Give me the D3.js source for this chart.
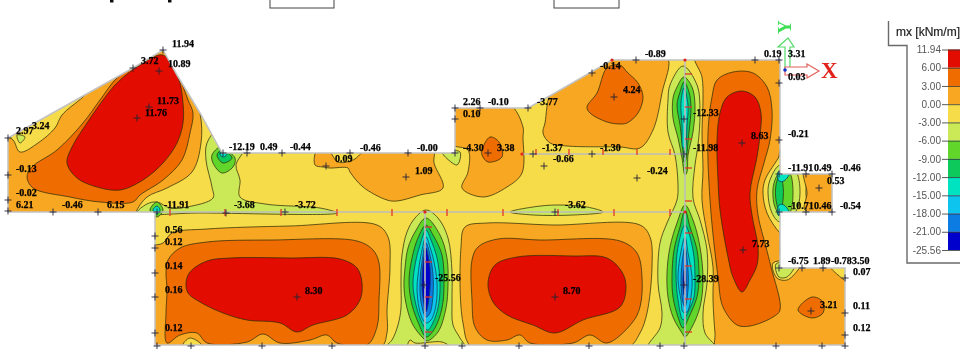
<!DOCTYPE html>
<html>
<head>
<meta charset="utf-8">
<script src="https://cdn.jsdelivr.net/npm/d3@7"></script>
<style>
  html, body { margin: 0; padding: 0; background: #fff; overflow: hidden; }
  svg { display: block; }
</style>
</head>
<body>
<svg id="plate" width="960" height="349"></svg>
<script>
// Legend: moment levels and the colour of the band under each level
const legendLabels = ["11.94", "6.00", "3.00", "0.00", "-3.00", "-6.00", "-9.00", "-12.00", "-15.00", "-18.00", "-21.00", "-25.56"];
const bandLevels = [6, 3, 0, -3, -6, -9, -12, -15, -18, -21, -25.56];
const bandColors = ["#e20a00", "#ee6c00", "#f8a722", "#f7dc4a", "#cbe957", "#62d52c", "#0cc95c", "#00e3c0", "#10c4ee", "#0a7ce2", "#0404cc"];

// Slab geometry in plan coordinates (m)
const slabOutline = [[0.8,13.8],[13.3,6.8],[16.3,5],[17.7,7.5],[20,11.3],[22.2,15.3],[45.5,15.3],[45.5,10.8],[52.8,10.8],[55.5,9.3],[61.2,6],[78,6],[78,17.4],[83.2,17.4],[83.2,21.2],[78,21.2],[78,26.8],[84.5,26.8],[84.5,34.5],[15.5,34.5],[15.5,21.2],[0.8,21.2]];
const wallLines = [
  [[15.5,21.2],[68.5,21.2]],
  [[52.2,15.4],[68.5,15.4]],
  [[68.5,6],[68.5,34.5]],
  [[42.5,21.2],[42.5,34.5]]
];

// Contour lines, one closed line per region
const wingLight = [[0.4,13.6],[1.3,14],[2,15.2],[3.8,14.3],[5.5,12.8],[6.2,11.5],[8.3,9.7],[10,8],[13.3,6],[16.3,4],[18.5,7],[20,11.3],[20.1,14.3],[19.2,17.2],[16.7,18.8],[14.7,19.7],[13.6,21.2],[13.4,22.2],[0.4,22.2]];
const wingOrange = [[2.7,17.7],[3.2,16.7],[5.7,15],[8.3,12.3],[10,10],[11.7,7.8],[13.3,6.8],[16.3,5.7],[17.7,7.3],[18.8,10],[19.3,11.3],[19,13.3],[18.2,16],[16.3,18],[14,19.5],[13.3,20.2],[10,20.2],[7,19.7],[3.3,18.8]];
const wingRed = [[6.7,16.3],[7.2,14.7],[8.7,12.3],[10.3,10],[11.7,8.3],[14,6.5],[16.3,5.5],[17.8,7.7],[18.3,10.3],[18.3,12.3],[17.7,14.3],[16.3,16.3],[14.3,18],[12,19],[9.7,18.7],[7.7,17.8]];
const wingGreenBand = [[21.8,13],[20.7,14.3],[20.6,16],[21.2,18.7],[21.3,19.8],[18.7,20.7],[17,20.8],[15.7,20.2],[14.7,20.4],[13.7,21.3],[20,21.3],[33.7,21.3],[32,20.8],[26.5,20.4],[24,19.7],[24,18],[23.6,16.5],[24.3,15],[23.2,14.6]];
const wingGreen = [[22,14.7],[21.2,15.5],[21.3,16.3],[22.2,17.3],[23.3,16.7],[23.5,15.8],[22.4,14.9]];
const wingDarkGreen = [[22.2,15],[21.7,15.5],[22.3,16.3],[23.2,15.8]];
const wingTeal = [[22.2,15.1],[22,15.5],[22.4,15.7],[22.7,15.4]];
const cornerDiamond = [[15.7,20.2],[15,21],[15.7,21.7],[16.3,21]];
const cornerDiamondInner = [[15.7,20.6],[15.3,21],[15.7,21.4],[16,21]];
const wingTipGreen = [[1.7,13.5],[2,14.3],[2.5,13.7]];

const topLumpA = [[31.5,16.5],[31.7,15],[32.8,15],[33.8,16.2],[35.3,16],[36.7,15],[43.3,15],[43.4,16.3],[44.3,18.8],[42,19.5],[39.7,20.1],[38.7,20],[36.3,18.7],[35,17.2],[34.8,16.8],[33,16.8],[32.3,16.7]];
const notchGreen = [[44.2,15.2],[45.7,16.5],[46,15.2]];
const topLumpB = [[45.2,10.4],[50.9,10.4],[52.3,12.7],[52.3,13.7],[52.2,17.3],[50.7,18.7],[48.3,19.7],[46.2,18.8],[46.8,17.2],[46.8,15],[45.2,14.4]];
const topLumpBOrange = [[48.2,15],[49,13.7],[49.9,14.2],[50.2,15.7],[48.8,16.2],[48.2,15.5]];
const topLumpC = [[55.2,9],[54.5,12.3],[54.3,13.3],[55,14.3],[56.7,14.6],[62,14.7],[64,14.8],[65.3,13],[66.2,9.3],[66.7,5.6],[61.2,5],[58,7]];
const topLumpCOrange = [[58.7,10.7],[59.7,9.3],[60.7,6.8],[62,6.5],[62.7,7.2],[63.8,8.3],[64.3,9.7],[63.8,11.3],[62.7,12.3],[62,12.4],[60.7,12.2],[59,11.3]];
const beamLens = [[51,21.2],[53.3,20.7],[55.7,20.5],[58.7,20.7],[60.3,21.2],[57.3,21.5],[53.3,21.5]];

const spanALight = [[15.5,24.5],[16.3,24.3],[17.2,23.3],[20.7,22.9],[29,22.6],[37.7,22.5],[38.8,23.7],[39,26.7],[38.7,31],[38.7,33.3],[38,34.8],[15,34.8],[15,24.5]];
const spanAOrange = [[16.6,27.2],[16.8,26],[18,24.8],[20.7,24.2],[27.3,24],[35.7,24.1],[37.3,25],[37.9,26.3],[37.9,30],[37.7,32.7],[36.7,34.5],[33.7,34.3],[32.7,33.5],[31,34],[28,34.3],[26.3,33.4],[24.7,34.2],[20.7,34.3],[19.7,33.3],[18,33.5],[16.7,34.3],[16.6,31.3],[16.7,29]];
const spanARed = [[18.6,28.3],[19,27.2],[20.7,26.1],[23,25.8],[29,25.8],[34,25.9],[35.7,26.8],[36.2,28.3],[36,30],[34.7,31.5],[31.3,32.5],[29.7,33.2],[28,32.3],[24.7,32],[22.3,31.3],[20,30.2],[18.8,29.3]];
const spanABump = [[18.2,34.7],[19,33.8],[20.3,34.7],[19,35.5]];

const spanBLight = [[46.1,24.7],[46.5,22.7],[48.7,22.3],[55.3,22.5],[64,22.5],[65,23.7],[65.2,26.7],[64.7,31.3],[64,33.3],[62.7,34.8],[47.3,34.8],[46.3,32.3]];
const spanBOrange = [[47.2,26],[47.8,24.7],[49.8,23.9],[54,24],[62,24.1],[63.7,25.3],[64.2,27.7],[64,30.7],[63.2,32.3],[60.7,34.3],[59,33.5],[57.3,34.3],[53,34.3],[52,33.5],[50.7,34],[48.7,34],[47.5,32.7],[47.2,30]];
const spanBRed = [[48.8,28.3],[49.5,26.5],[51.7,25.7],[57.3,25.6],[60.7,25.8],[62.2,27.2],[62.6,28.7],[62,30.7],[58.3,32],[55.5,33.3],[53.3,32.5],[50.7,31.5],[49.3,30.2]];

const rightLight = [[69.5,5.5],[70.2,7.7],[70.3,10],[70.2,13.3],[70.3,17],[70.2,20],[70.7,23.3],[71.3,26.7],[71.3,30],[71.5,33.3],[71.7,35],[85,35],[85,26.2],[78.4,26.2],[78,23.5],[78,15],[78.5,14],[78.5,5.5]];
const rightOrange = [[71.2,9.7],[71.7,8],[73.3,7.2],[75.3,7.3],[76.7,8.7],[77.2,11],[77,14],[76.4,16.3],[75.7,19],[75.8,21.5],[76.6,24.7],[77.1,26.7],[78,31],[77.3,31.7],[75,32.6],[73.7,32.5],[72.3,30.7],[71.8,27.7],[71,20],[70.8,13.3]];
const rightRed = [[72,11.3],[72.7,9.7],[74.2,9.1],[75.5,9.7],[76.1,11.3],[76,13.5],[75.7,15.7],[75,19.3],[75.2,21.5],[75.8,24.7],[75.7,26.5],[75,28],[74.2,29.2],[73.3,27.7],[72.8,25.7],[72,21],[71.8,18],[71.7,14]];
const islandOrange = [[79.8,31],[81.2,29.7],[82.3,30.2],[82.3,31.3],[81.2,31.8]];
const notchYellow = [[77.3,26.3],[77.7,27.8],[78.7,28],[79.8,27],[80.2,26.3]];
const notchGreenB = [[77.6,26.4],[77.9,27.7],[78.7,27.7],[79.5,26.4]];
const cornerYellow = [[82.8,26.3],[83.8,27.5],[85,28.2],[85,26.3]];

const endBulge = [[78.4,14.5],[78,15.5],[76.5,18],[76.3,19.3],[76.7,21.3],[78,23.3],[79,24],[81,22.5],[80.6,19.5],[80.6,16.5],[79.5,15.5]];
const endLight = [[80.4,17],[82.3,17],[83.8,18.8],[83.8,21],[80.5,21],[80.7,19.3]];
const endBandA = [[78,16.5],[77,18],[76.8,19.3],[77.2,21.3],[78,22.2],[79.5,21.3],[80,19.3],[79.5,17]];
const endBandB = [[78,17.2],[77.4,18.3],[77.3,19.7],[77.5,20.7],[78,21.5],[78.9,21.4],[79.3,19.3],[78.9,17.2]];
const endBandC = [[78,17.4],[77.6,18.5],[77.6,20],[78,21.3],[78.3,20],[78.3,18.5]];
const endCornerTop = [[77.8,17.2],[77.9,18.1],[78.4,18.1],[79,17.2]];
const endCornerBot = [[77.8,21.5],[77.9,20.5],[78.4,20.5],[79,21.5]];

const stripBand3 = [[68.3,6.6],[67,8.5],[66.8,10],[66.8,13.2],[67.5,15.5],[67.8,18.5],[67.7,20],[66.7,22.3],[66,24.3],[65.8,28.3],[66.2,31.3],[66,32.8],[64.7,35],[71.7,35],[70.5,33.3],[70.3,31.3],[70.7,28.3],[70.7,25],[70,22],[69.3,19.8],[69.5,16.5],[69.8,14.5],[70,11.2],[69.7,8.5]];
const stripUp6 = [[68.4,7.7],[67.7,8.7],[67.3,9.8],[67.3,11.8],[67.8,13.8],[68.2,15.8],[68.5,17.5],[68.7,17.2],[68.8,15.5],[69.3,13.2],[69.5,10.5],[69.2,8.7]];
const stripUp9 = [[68.4,8.2],[68,9.2],[67.7,10.5],[68,12.5],[68.3,15.2],[68.4,16.2],[68.5,16.2],[68.9,13.2],[69.1,10.8],[68.9,9.2]];
const stripUp12 = [[68.4,8.8],[68.1,10.2],[68.2,12.5],[68.3,14.8],[68.5,14.8],[68.7,12.5],[68.8,10.5]];
const stripLow6 = [[68.5,20.5],[67.7,22.3],[67,24.7],[66.7,27.3],[66.8,29.7],[67.3,31.7],[68.2,33.3],[68.5,33.7],[69.2,32.7],[70,30.7],[70.3,28],[70,24.7],[69.3,22]];
const stripLow9 = [[68.5,21],[68,22.7],[67.4,25],[67.2,27.7],[67.3,29.7],[67.8,31.7],[68.3,32.8],[68.9,31.7],[69.7,29.7],[69.9,27.7],[69.7,25],[69,22.7]];
const stripLow12 = [[68.5,22.5],[67.8,24.7],[67.6,27.3],[67.8,30],[68.3,32],[68.9,31],[69.4,29.7],[69.5,27.7],[69.3,25]];
const stripLow15 = [[68.5,23.7],[68,25.7],[67.8,28],[68.1,30],[68.3,31.2],[68.7,31.2],[69.1,29.7],[69.2,27.7],[68.8,25.3]];
const stripLow18 = [[68.5,24.7],[68.2,26.3],[68.1,28.3],[68.3,30.3],[68.5,30.7],[68.8,29],[68.8,27]];
const stripLow21 = [[68.5,26.5],[68.3,28],[68.4,29.5],[68.6,28.5]];

const midBand3 = [[42.6,21],[41.5,21.8],[40.7,23.2],[40.2,25.5],[40.1,28.2],[40.1,30.8],[39.8,32.5],[39.2,34],[38.5,34.8],[46.5,34.8],[46,33.8],[45.3,32.5],[45.2,30.2],[45.2,27.2],[44.8,23.8],[43.8,21.8]];
const mid6 = [[42.6,21.8],[41.5,23.2],[40.8,24.8],[40.5,26.8],[40.4,28.8],[40.7,30.8],[41.3,32.5],[42.3,33.8],[42.7,34.1],[43.8,33.2],[44.6,30.8],[44.8,28.5],[44.7,25.8],[44,23.5]];
const mid9 = [[42.6,22.5],[41.8,23.8],[41.2,25.8],[40.9,28.2],[41.2,30.5],[41.8,32.2],[42.4,33.5],[42.7,33.7],[43.5,32.8],[44.2,30.8],[44.4,28.5],[44.2,25.5],[43.3,23.5]];
const mid12 = [[42.6,23],[42,24.5],[41.5,26.5],[41.3,28.5],[41.6,30.5],[42,31.8],[42.5,32.8],[42.8,33],[43.5,31.8],[43.9,30.2],[44,28.2],[43.7,25.8],[43.1,24]];
const mid15 = [[42.6,23.7],[42.1,25.5],[41.8,27.5],[41.7,28.8],[41.9,30.8],[42.3,32],[42.6,32.3],[43.1,32],[43.6,30.5],[43.7,28.2],[43.4,26.2],[43,24.7]];
const mid18 = [[42.6,24.3],[42.2,26.2],[42,28.2],[42.1,30.2],[42.6,31.7],[43,31.3],[43.3,29.5],[43.3,27.5],[43,25.5]];
const mid21 = [[42.6,24.8],[42.3,26.5],[42.2,28.5],[42.3,29.8],[42.6,31.2],[42.8,30.5],[43,28.8],[43,26.8],[42.8,25.5]];
const midBump = [[40.8,34.7],[41,34],[41.5,34.3],[44.2,34.2],[45,34.7]];

// Painted back to front: [level, contour]
const contourRegions = [
  [0, wingLight], [3, wingOrange], [6, wingRed], [-6, wingGreenBand], [-9, wingGreen], [-12, wingDarkGreen], [-15, wingTeal],
  [-9, cornerDiamond], [-15, cornerDiamondInner], [-6, wingTipGreen],
  [0, topLumpA], [-6, notchGreen], [0, topLumpB], [3, topLumpBOrange], [0, topLumpC], [3, topLumpCOrange], [-6, beamLens],
  [0, spanALight], [3, spanAOrange], [6, spanARed], [-3, spanABump],
  [0, spanBLight], [3, spanBOrange], [6, spanBRed],
  [0, rightLight], [3, rightOrange], [6, rightRed], [3, islandOrange], [-3, notchYellow], [-6, notchGreenB], [-3, cornerYellow],
  [-3, endBulge], [0, endLight], [-6, endBandA], [-9, endBandB], [-12, endBandC], [-15, endCornerTop], [-15, endCornerBot],
  [-6, stripBand3], [-9, stripUp6], [-12, stripUp9], [-15, stripUp12],
  [-9, stripLow6], [-12, stripLow9], [-15, stripLow12], [-18, stripLow15], [-21, stripLow18], [-25.56, stripLow21],
  [-6, midBand3], [-9, mid6], [-12, mid9], [-15, mid12], [-18, mid15], [-21, mid18], [-25.56, mid21], [-3, midBump]
];

// Support marks along the walls
const beamTicks = [17, 22.5, 28.1, 33.7, 39.2, 44.7, 50.3, 55.8, 61.4, 67];
const shelfTicks = [53.6, 56.9, 60.3, 63.7, 67];
const stripTicks = [7.4, 10.7, 13.9, 16.8, 20.1, 23.3, 26.6, 29.9, 33.2];
const midTicks = [22.7, 26.2, 29.7, 33.2];
const redDots = [[42.5,21.2],[68.5,6],[61.2,6],[68.5,21.2],[52.2,15.4]];

// FE nodes with a printed result
const nodeMarks = [[16.3,5],[15.9,7.1],[13.3,6.8],[14.9,10.7],[13.7,11.8],[0.8,13.8],[0.8,17.5],[0.8,20],[0.8,21.1],[5.3,21.2],[9.8,21.2],[15.7,21.2],[22.3,15.3],[24.7,15.3],[28.2,15.3],[22.6,21.3],[28.5,21.2],[35,15.3],[32.6,16.6],[40.8,15.3],[40.6,17.7],[45.5,15.3],[45.5,10.8],[45.5,11.9],[48,10.8],[48.8,15.3],[52.8,10.8],[53.3,15.4],[54.4,16.6],[59.2,15.4],[59.2,7.3],[61.4,9.7],[55.5,21.2],[63.6,6],[75.5,6],[77.9,6],[77.9,8.3],[68.4,11.9],[68.4,15.4],[63.7,17.8],[74.2,14.3],[77.9,14],[77.9,17.4],[80.6,17.4],[83.2,17.4],[81.9,18.8],[77.9,21.2],[80.6,21.2],[83.2,21.2],[15.5,23.6],[15.5,24.8],[15.5,27.3],[15.5,29.7],[15.5,33.3],[15.7,34.6],[19.1,34.6],[26.2,34.6],[33.2,34.6],[42.5,34.6],[29.7,29.7],[42.4,28.5],[46.2,34.6],[51.9,34.6],[58.9,34.6],[66,34.6],[68.4,34.6],[55.5,29.7],[68.4,28.5],[74.3,25],[77.9,26.8],[80.2,26.8],[82.3,26.8],[84.5,27.8],[84.5,31.3],[84.5,33.5],[84.5,34.6],[77.6,34.6],[82.2,34.6],[81.1,31.1]];

const resultTexts = ["11.94","3.72","10.89","11.73","11.76","2.97","3.24","-0.13","-0.02","6.21","-0.46","6.15","-11.91","-3.68","-3.72","-12.19","0.49","-0.44","0.09","-0.46","-0.00","1.09","2.26","-0.10","0.10","-3.77","-4.30","3.38","-1.37","-0.66","-1.30","-3.62","-0.14","-0.89","0.19","3.31","0.03","4.24","-12.33","-11.98","8.63","-0.21","-0.24","-11.91","0.49","-0.46","0.53","-10.71","0.46","-0.54","0.56","0.12","0.14","0.16","0.12","8.30","-25.56","8.70","-28.39","7.73","-6.75","1.89","-0.78","3.50","0.07","0.11","0.12","3.21"];
const resultAnchors = [[17.2,4.7],[14.1,6.4],[16.8,6.7],[15.7,10.4],[14.5,11.6],[1.6,13.4],[3.2,12.9],[1.6,17.2],[1.6,19.6],[1.6,20.8],[6.2,20.8],[10.7,20.8],[16.4,20.8],[23.4,20.8],[29.5,20.8],[22.9,15],[26,15],[29,15],[33.5,16.2],[36,15.1],[41.7,15.1],[41.5,17.4],[46.3,10.5],[48.8,10.5],[46.3,11.7],[53.7,10.5],[46.3,15.1],[49.7,15.1],[54.2,15.1],[55.3,16.2],[60,15.1],[56.5,20.8],[60,6.9],[64.5,5.7],[76.4,5.7],[78.8,5.7],[78.8,8],[62.3,9.3],[69.3,11.6],[69.3,15.1],[75.1,13.9],[78.8,13.7],[64.7,17.4],[78.8,17.1],[81.4,17.1],[84,17.1],[82.7,18.4],[78.8,20.9],[81.4,20.9],[84,20.9],[16.5,23.3],[16.5,24.5],[16.5,26.9],[16.5,29.3],[16.5,33.1],[30.5,29.4],[43.5,28.1],[56.3,29.4],[69.3,28.2],[75.2,24.7],[78.8,26.4],[81.3,26.4],[83.1,26.4],[85.2,26.4],[85.3,27.5],[85.3,30.9],[85.3,33.1],[82,30.8]];

// Global axes glyph at the slab origin
const arrowY = [[78.5,7],[78.5,4.7],[77.8,4.7],[78.8,3.8],[79.4,4.7],[79,4.7],[79,7]];
const arrowX = [[78.5,6.7],[80.7,6.7],[80.7,6.4],[81.9,7.1],[80.7,7.8],[80.7,7.5],[78.5,7.5]];
const originDot = [78.5,7];

// Title frame pieces left over along the top edge of the screenshot
const topBoxes = [[27,33.4],[55.4,61.9]];
const topBoxDepth = 0.8;
const topSpecks = [11, 16.8];

const svg = d3.select("#plate");
const x = d3.scaleLinear().domain([0, 96]).range([0, 960]);
const y = d3.scaleLinear().domain([0, 34.9]).range([0, 349]);
const color = d3.scaleOrdinal().domain(bandLevels).range(bandColors);
const path = d3.line().x(d => x(d[0])).y(d => y(d[1]));
const smooth = d3.line().x(d => x(d[0])).y(d => y(d[1])).curve(d3.curveCatmullRomClosed.alpha(0.5));

// Soften everything a little, the source is a rescaled screenshot
const defs = svg.append("defs");
defs.append("filter").attr("id", "soft")
  .attr("x", "-2%").attr("y", "-2%").attr("width", "104%").attr("height", "104%")
  .append("feGaussianBlur").attr("stdDeviation", 0.45);
defs.append("clipPath").attr("id", "slabClip")
  .append("path").attr("d", path(slabOutline) + "Z");

const plot = svg.append("g").attr("filter", "url(#soft)");

// Contour fills
const fills = plot.append("g").attr("clip-path", "url(#slabClip)");
fills.append("path").attr("d", path(slabOutline) + "Z").attr("fill", color(-3));
fills.selectAll("path.band")
  .data(contourRegions)
  .join("path")
  .attr("class", "band")
  .attr("d", d => smooth(d[1]))
  .attr("fill", d => color(d[0]))
  .attr("stroke", d => d[0] <= -15 ? "#0d3d5c" : "#33300a")
  .attr("stroke-opacity", 0.85)
  .attr("stroke-width", 0.9);

// Walls and slab edge
plot.append("g").selectAll("path")
  .data(wallLines)
  .join("path")
  .attr("d", d => path(d))
  .attr("stroke", "#bdbdbd")
  .attr("stroke-width", 1.6)
  .attr("fill", "none");
plot.append("path")
  .attr("d", path(slabOutline) + "Z")
  .attr("fill", "none")
  .attr("stroke", "#c2c2c2")
  .attr("stroke-width", 1.5);

// Red support ticks
const ticks = plot.append("g").attr("stroke", "#e2362a").attr("stroke-width", 1.3);
ticks.selectAll("line.beam").data(beamTicks).join("line").attr("class", "beam")
  .attr("x1", d => x(d)).attr("x2", d => x(d)).attr("y1", y(20.9)).attr("y2", y(21.6));
ticks.selectAll("line.shelf").data(shelfTicks).join("line").attr("class", "shelf")
  .attr("x1", d => x(d)).attr("x2", d => x(d)).attr("y1", y(14.9)).attr("y2", y(15.5));
ticks.selectAll("line.strip").data(stripTicks).join("line").attr("class", "strip")
  .attr("x1", x(68.5)).attr("x2", x(69.2)).attr("y1", d => y(d)).attr("y2", d => y(d));
ticks.selectAll("line.mid").data(midTicks).join("line").attr("class", "mid")
  .attr("x1", x(42.5)).attr("x2", x(43.2)).attr("y1", d => y(d)).attr("y2", d => y(d));
plot.append("g").selectAll("circle")
  .data(redDots)
  .join("circle")
  .attr("cx", d => x(d[0]))
  .attr("cy", d => y(d[1]))
  .attr("r", 1.6)
  .attr("fill", "#e2231a");

// Node crosses
plot.append("g").selectAll("path")
  .data(nodeMarks)
  .join("path")
  .attr("d", d => `M${x(d[0]) - 3.5},${y(d[1])}H${x(d[0]) + 3.5}M${x(d[0])},${y(d[1]) - 3.5}V${y(d[1]) + 3.5}`)
  .attr("stroke", "#1f2238")
  .attr("stroke-width", 0.9)
  .attr("fill", "none");

// Axes glyph
plot.append("path").attr("d", path(arrowY) + "Z").attr("fill", "#fff").attr("stroke", "#55d96a").attr("stroke-width", 1.2);
plot.append("path").attr("d", path(arrowX) + "Z").attr("fill", "#fff").attr("stroke", "#e2605a").attr("stroke-width", 1.2);
plot.append("circle").attr("cx", x(originDot[0])).attr("cy", y(originDot[1])).attr("r", 1.8).attr("fill", "#1030d0");
plot.append("text")
  .attr("transform", `translate(${x(79.1)},${y(3.4)}) rotate(-90)`)
  .attr("font-family", "Liberation Serif")
  .attr("font-weight", "bold")
  .attr("font-size", 19)
  .attr("fill", "#3ddf55")
  .text("Y");
plot.append("text")
  .attr("x", x(82.1))
  .attr("y", y(7.8))
  .attr("font-family", "Liberation Serif")
  .attr("font-weight", "bold")
  .attr("font-size", 23)
  .attr("fill", "#e2231a")
  .text("X");

// Result labels
plot.append("g")
  .attr("font-family", "Liberation Serif")
  .attr("font-weight", "bold")
  .attr("font-size", 10)
  .attr("fill", "#000")
  .attr("stroke", "#000")
  .attr("stroke-width", 0.25)
  .selectAll("text")
  .data(resultTexts)
  .join("text")
  .attr("x", (d, i) => x(resultAnchors[i][0]))
  .attr("y", (d, i) => y(resultAnchors[i][1]))
  .text(d => d);

// Screenshot leftovers at the top
const topBits = plot.append("g");
topBits.selectAll("rect.box").data(topBoxes).join("rect").attr("class", "box")
  .attr("x", d => x(d[0]))
  .attr("y", -4)
  .attr("width", d => x(d[1]) - x(d[0]))
  .attr("height", y(topBoxDepth) + 4)
  .attr("fill", "#fff")
  .attr("stroke", "#444");
topBits.selectAll("rect.speck").data(topSpecks).join("rect").attr("class", "speck")
  .attr("x", d => x(d))
  .attr("y", 0)
  .attr("width", 3.5)
  .attr("height", 2.5)
  .attr("fill", "#111");

// Legend
const legend = svg.append("g").attr("filter", "url(#soft)");
const legendY = d3.scalePoint().domain(legendLabels).range([49.5, 250]);
legend.append("path")
  .attr("d", "M888.5,21V45.5H907V263H960")
  .attr("fill", "none")
  .attr("stroke", "#6a6a6a")
  .attr("stroke-width", 1.4);
legend.append("text")
  .attr("x", 896)
  .attr("y", 36)
  .attr("font-family", "Liberation Sans")
  .attr("font-size", 12)
  .attr("fill", "#222")
  .attr("stroke", "#222")
  .attr("stroke-width", 0.2)
  .text("mx [kNm/m]");
legend.selectAll("rect.band")
  .data(bandColors)
  .join("rect")
  .attr("class", "band")
  .attr("x", 948)
  .attr("y", (d, i) => legendY(legendLabels[i]))
  .attr("width", 14)
  .attr("height", (d, i) => legendY(legendLabels[i + 1]) - legendY(legendLabels[i]))
  .attr("fill", d => d);
const legendAxis = legend.append("g")
  .attr("transform", "translate(948,0)")
  .call(d3.axisRight(legendY).tickSize(14).tickFormat(""));
legendAxis.select(".domain").remove();
legendAxis.selectAll("line").attr("stroke", "#333").attr("stroke-width", 0.8);
const legendLabelAxis = legend.append("g")
  .attr("transform", "translate(948,0)")
  .call(d3.axisLeft(legendY).tickSize(6).tickPadding(1));
legendLabelAxis.select(".domain").remove();
legendLabelAxis.selectAll("line").attr("stroke", "#333").attr("stroke-width", 0.8);
legendLabelAxis.selectAll("text")
  .attr("font-family", "Liberation Sans")
  .attr("font-size", 10)
  .attr("fill", "#555");
</script>
</body>
</html>
